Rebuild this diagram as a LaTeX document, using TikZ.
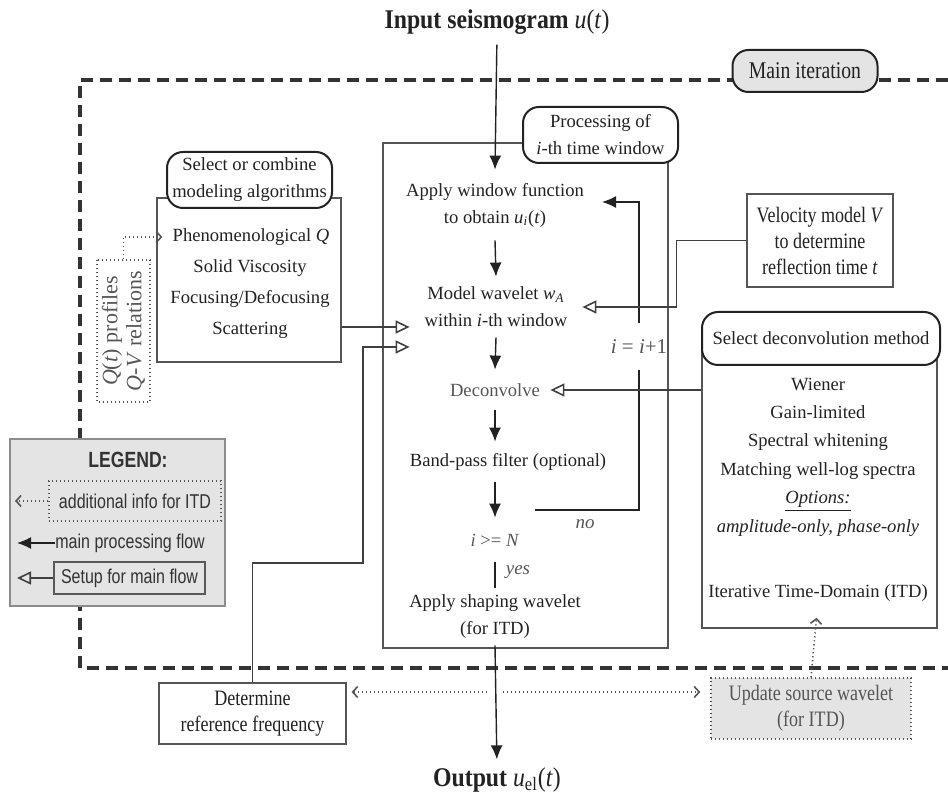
\documentclass[tikz,border=0pt]{standalone}
\usepackage{fontspec}
\setmainfont{Liberation Serif}
\newfontfamily\condfont[FakeStretch=0.82]{Liberation Serif}
\newfontfamily\titlefont[FakeStretch=0.88]{Liberation Serif}
\newfontfamily\legfont[FakeStretch=0.8]{Liberation Sans}
\usetikzlibrary{arrows.meta,positioning,fit}
\definecolor{ink}{HTML}{222222}
\definecolor{soft}{HTML}{555555}
\definecolor{boxgray}{HTML}{E4E4E4}

\tikzset{
  txt/.style={font=\fontsize{9.3}{13.5}\selectfont, text=ink, align=center, inner sep=0pt},
  cond/.style={txt, font=\condfont\fontsize{11}{13}\selectfont},
  lab/.style={txt, text=soft, font=\fontsize{9.5}{12}\selectfont\itshape},
  mainbox/.style={draw=soft, line width=0.6pt, inner sep=0pt},
  headbox/.style={txt, draw=ink, line width=1pt, rounded corners=8pt, fill=white},
  sidebox/.style={cond, draw=soft, line width=0.6pt},
  updbox/.style={cond, text=soft, fill=boxgray, draw=soft, line width=0.7pt, dash pattern=on 0.6pt off 1.4pt},
  infobox/.style={txt, text=soft, font=\fontsize{11}{12}\selectfont, draw=soft, line width=0.7pt, dash pattern=on 0.6pt off 1.4pt},
  iterbox/.style={cond, font=\condfont\fontsize{12}{13}\selectfont, fill=boxgray, draw=ink, line width=1pt, rounded corners=8pt},
  legendbox/.style={fill=boxgray, draw=black!45, line width=0.8pt, inner sep=0pt},
  legtxt/.style={txt, text=black!80, font=\legfont\fontsize{10}{12}\selectfont},
  flow/.style={draw=ink, line width=0.7pt, -{Latex[length=7pt,width=6pt]}},
  setup/.style={draw=black!75, line width=0.6pt, -{Triangle[open,length=7pt,width=6.5pt,line width=0.8pt]}},
  info/.style={draw=soft, line width=0.8pt, dash pattern=on 0.6pt off 1.4pt, -{Straight Barb[length=2.5pt,width=5.5pt]}},
  iterline/.style={draw=black!80, line width=1.6pt, dash pattern=on 6pt off 3.5pt},
}

\begin{document}
\begin{tikzpicture}[x=0.5pt, y=-0.5pt]
  \useasboundingbox (0,0) rectangle (948,795);

  \draw[iterline] (948,80) -- (80,80) -- (80,668) -- (948,668);
  \node (mainit) [iterbox, minimum width=72.5pt, minimum height=21pt] at (805,71) {Main iteration};

  \node (input) [txt, font=\titlefont\fontsize{13.5}{16}\selectfont] at (497,22) {\textbf{Input seismogram} \textit{u}(\textit{t})};
  \node (output) [txt, font=\titlefont\fontsize{13.5}{16}\selectfont] at (497,780) {\textbf{Output} \textit{u}\textsubscript{el}(\textit{t})};

  \node (procbox) [mainbox, fit={(383,143) (668,648)}] {};
  \node (prochead) [headbox, minimum width=77.5pt, minimum height=28pt] at (600.5,135) {Processing of\\\textit{i}-th time window};

  \node (window) [txt, minimum height=35pt] at (495,205) {Apply window function\\to obtain \textit{u}\textsubscript{\textit{i}}(\textit{t})};
  \node (model) [txt, minimum height=30pt, minimum width=86pt] at (496,307) {Model wavelet \textit{w}\textsubscript{\textit{A}}\\within \textit{i}-th window};
  \node (deconv) [txt, text=soft, minimum height=20pt, minimum width=55pt] at (495,390) {Deconvolve};
  \node (bandpass) [txt, minimum height=20pt] at (508,462) {Band-pass filter (optional)};
  \node (check) [txt, text=soft, minimum height=22pt] at (495,540) {\textit{i} >= \textit{N}};
  \node (shaping) [txt, minimum height=28.5pt] at (495,616.5) {Apply shaping wavelet\\(for ITD)};
  \node (yeslab) [lab] at (518,572) {yes};
  \node (nolab) [lab] at (585,524) {no};
  \node (incr) [txt, text=soft, font=\fontsize{10.5}{12}\selectfont, minimum height=23.5pt] at (639,346.5) {\textit{i} = \textit{i}+1};

  \draw[flow, shorten <=5pt] (input.south) -- (window.north);
  \draw[flow] (window.south) -- (model.north);
  \draw[flow] (model.south) -- (deconv.north);
  \draw[flow] (deconv.south) -- (deconv.south |- bandpass.north);
  \draw[flow] (deconv.south |- bandpass.south) -- (check.north);
  \draw[draw=ink, line width=0.8pt] (check.south) -- (shaping.north);
  \draw[flow, shorten >=4pt] (shaping.south) -- (output.north);

  \coordinate (nostart) at (535,510);
  \coordinate (looptip) at (602,202);
  \draw[draw=ink, line width=0.7pt] (nostart) -| (incr.south);
  \draw[flow] (incr.north) |- (looptip);

  \node (velo) [sidebox, minimum width=73pt, minimum height=46.5pt] at (820,240.5) {Velocity model \textit{V}\\to determine\\reflection time \textit{t}};
  \draw[setup] (velo.west) -- ++(-70,0) |- (model.east);

  \node (dmbox) [mainbox, fit={(702,345) (937,628)}] {};
  \node (dmhead) [headbox, minimum width=119pt, minimum height=26.5pt] at (821,338.5) {Select deconvolution method};
  \node (dmlist) [txt, font=\fontsize{9.3}{14.2}\selectfont] at (818,457) {Wiener\\Gain-limited\\Spectral whitening\\Matching well-log spectra\\\underline{\textit{Options:}}\\\textit{amplitude-only, phase-only}};
  \node (itd) [txt] at (818,593) {Iterative Time-Domain (ITD)};
  \draw[setup] (dmbox.west |- deconv.east) -- (deconv.east);

  \node (modbox) [mainbox, fit={(157,198) (341,362)}] {};
  \node (modhead) [headbox, minimum width=82.5pt, minimum height=28pt] at (249.5,180) {Select or combine\\modeling algorithms};
  \node (mod1) [txt] at (251,237) {Phenomenological \textit{Q}};
  \node (mod2) [txt] at (250,268) {Solid Viscosity};
  \node (mod3) [txt] at (250,299) {Focusing/Defocusing};
  \node (mod4) [txt] at (250,330) {Scattering};

  \node (qvbox) [infobox, rotate=90, minimum width=71pt, minimum height=26.5pt] at (123.5,331) {\textit{Q}(\textit{t}) profiles\\\textit{Q}-\textit{V} relations};
  \draw[info, shorten >=5pt] (qvbox.east) |- (mod1.west);

  \coordinate (tipA) at ([yshift=-10pt]model.west);
  \coordinate (tipB) at ([yshift=-20pt]model.west);
  \draw[setup] (modbox.east |- tipA) -- (tipA);

  \node (determ) [sidebox, minimum width=93.5pt, minimum height=30.5pt] at (252.5,713.5) {Determine\\reference frequency};
  \coordinate (bendA) at (363,563);
  \draw[setup] (determ.north) |- (bendA) |- (tipB);

  \node (update) [updbox, minimum width=100pt, minimum height=30.5pt] at (811,708.5) {Update source wavelet\\(for ITD)};
  \draw[info, shorten >=8pt] (update.north) -- (itd.south);

  \coordinate (gapl) at (487,692);
  \coordinate (gapr) at (503,692);
  \draw[info, shorten >=2.5pt] (gapl) -- (determ.east |- gapl);
  \draw[info, shorten >=5pt] (gapr) -- (update.west |- gapr);

  \node (legbox) [legendbox, fit={(10,439) (225,606)}] {};
  \node (legtitle) [legtxt, font=\legfont\fontsize{11}{12}\selectfont\bfseries] at (128,460) {LEGEND:};
  \node (leginfo) [legtxt, draw=soft, line width=0.7pt, dash pattern=on 0.6pt off 1.4pt, minimum width=86pt, minimum height=20pt] at (135,501) {additional info for ITD};
  \coordinate (legA) at (15,501);
  \draw[info] (leginfo.west) -- (legA);
  \node (legflow) [legtxt, anchor=west] at (55,543) {main processing flow};
  \coordinate (legB) at (17,543);
  \draw[flow] (legflow.west) -- (legB);
  \node (legsetup) [legtxt, draw=black!65, line width=0.6pt, minimum width=75.5pt, minimum height=16pt] at (129.5,578) {Setup for main flow};
  \coordinate (legC) at (17,578);
  \draw[setup] (legsetup.west) -- (legC);
\end{tikzpicture}
\end{document}
